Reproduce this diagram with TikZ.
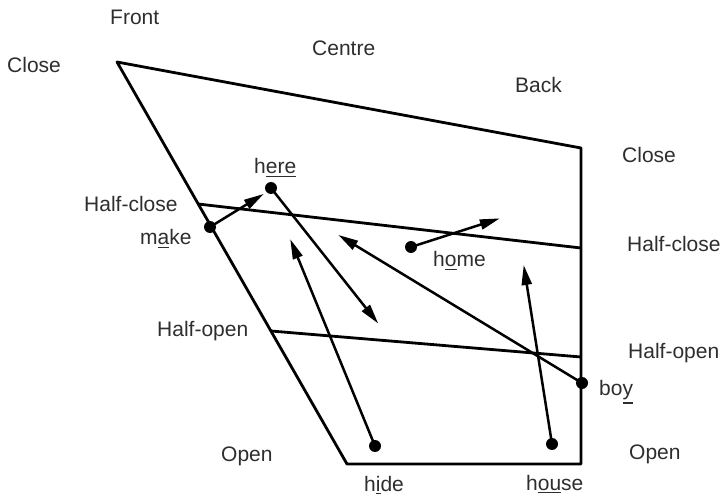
\documentclass[tikz,border=0pt]{standalone}
\usepackage{fontspec}
\setmainfont{Liberation Sans}
\usetikzlibrary{arrows.meta}
% underline a letter group just below its own depth
\newcommand\vowel[1]{\setbox0\hbox{#1}\rlap{\rule[\dimexpr-\dp0-3.2pt\relax]{\wd0}{1.4pt}}\box0}
\begin{document}
\begin{tikzpicture}[x=1pt,y=-1pt,
  lbl/.style={anchor=base west,inner sep=0pt,text=black!82,font=\fontsize{21}{24}\selectfont},
  edge/.style={line width=2.8pt,line join=round},
  dot/.style={circle,fill=black,inner sep=0pt,minimum size=12pt},
  move/.style={line width=2.5pt,-{Triangle[length=20pt,width=10pt]},shorten >=-2pt}]
\path[use as bounding box] (0,0) rectangle (724,497);

% chart outline
\coordinate (TL) at (117,62);
\coordinate (TR) at (581,148);
\coordinate (BR) at (581,464);
\coordinate (BL) at (347,464);
\draw[edge] (TL) -- (TR) -- (BR) -- (BL) -- cycle;

% height lines
\coordinate (hcL) at (198,204);
\coordinate (hcR) at (581,248);
\coordinate (hoL) at (271,331);
\coordinate (hoR) at (581,357);
\draw[edge] (hcL) -- (hcR);
\draw[edge] (hoL) -- (hoR);

% starting points of the glides
\node[dot] (make)  at (210,227) {};
\node[dot] (here)  at (271,188) {};
\node[dot] (home)  at (411,247) {};
\node[dot] (boy)   at (582,383) {};
\node[dot] (hide)  at (375,446) {};
\node[dot] (house) at (552,444) {};

% glide targets
\coordinate (tmake)  at (262,195);
\coordinate (there)  at (377,322);
\coordinate (thome)  at (498,219);
\coordinate (tboy)   at (340,236);
\coordinate (thide)  at (291,241);
\coordinate (thouse) at (524,267);

\draw[move] (make.center)  -- (tmake);
\draw[move] (here.center)  -- (there);
\draw[move] (home.center)  -- (thome);
\draw[move] (boy.center)   -- (tboy);
\draw[move] (hide.center)  -- (thide);
\draw[move] (house.center) -- (thouse);

% axis labels
\node[lbl] (front)  at (110,25)  {Front};
\node[lbl] (centre) at (312,56)  {Centre};
\node[lbl] (back)   at (515,93)  {Back};
\node[lbl] (closeL) at (7,73)    {Close};
\node[lbl] (closeR) at (622,163) {Close};
\node[lbl] (hcl)    at (84,212)  {Half-close};
\node[lbl] (hcr)    at (627,252) {Half-close};
\node[lbl] (hol)    at (157,337) {Half-open};
\node[lbl] (hor)    at (628,359) {Half-open};
\node[lbl] (openL)  at (221,462) {Open};
\node[lbl] (openR)  at (629,460) {Open};

% word labels
\node[lbl] (wmake)  at (140,245) {m\vowel{a}ke};
\node[lbl] (where)  at (254,174) {h\vowel{ere}};
\node[lbl] (whome)  at (433,267) {h\vowel{o}me};
\node[lbl] (wboy)   at (599,396) {bo\vowel{y}};
\node[lbl] (whide)  at (364,491) {h\vowel{i}de};
\node[lbl] (whouse) at (526,490) {h\vowel{ou}se};
\end{tikzpicture}
\end{document}
